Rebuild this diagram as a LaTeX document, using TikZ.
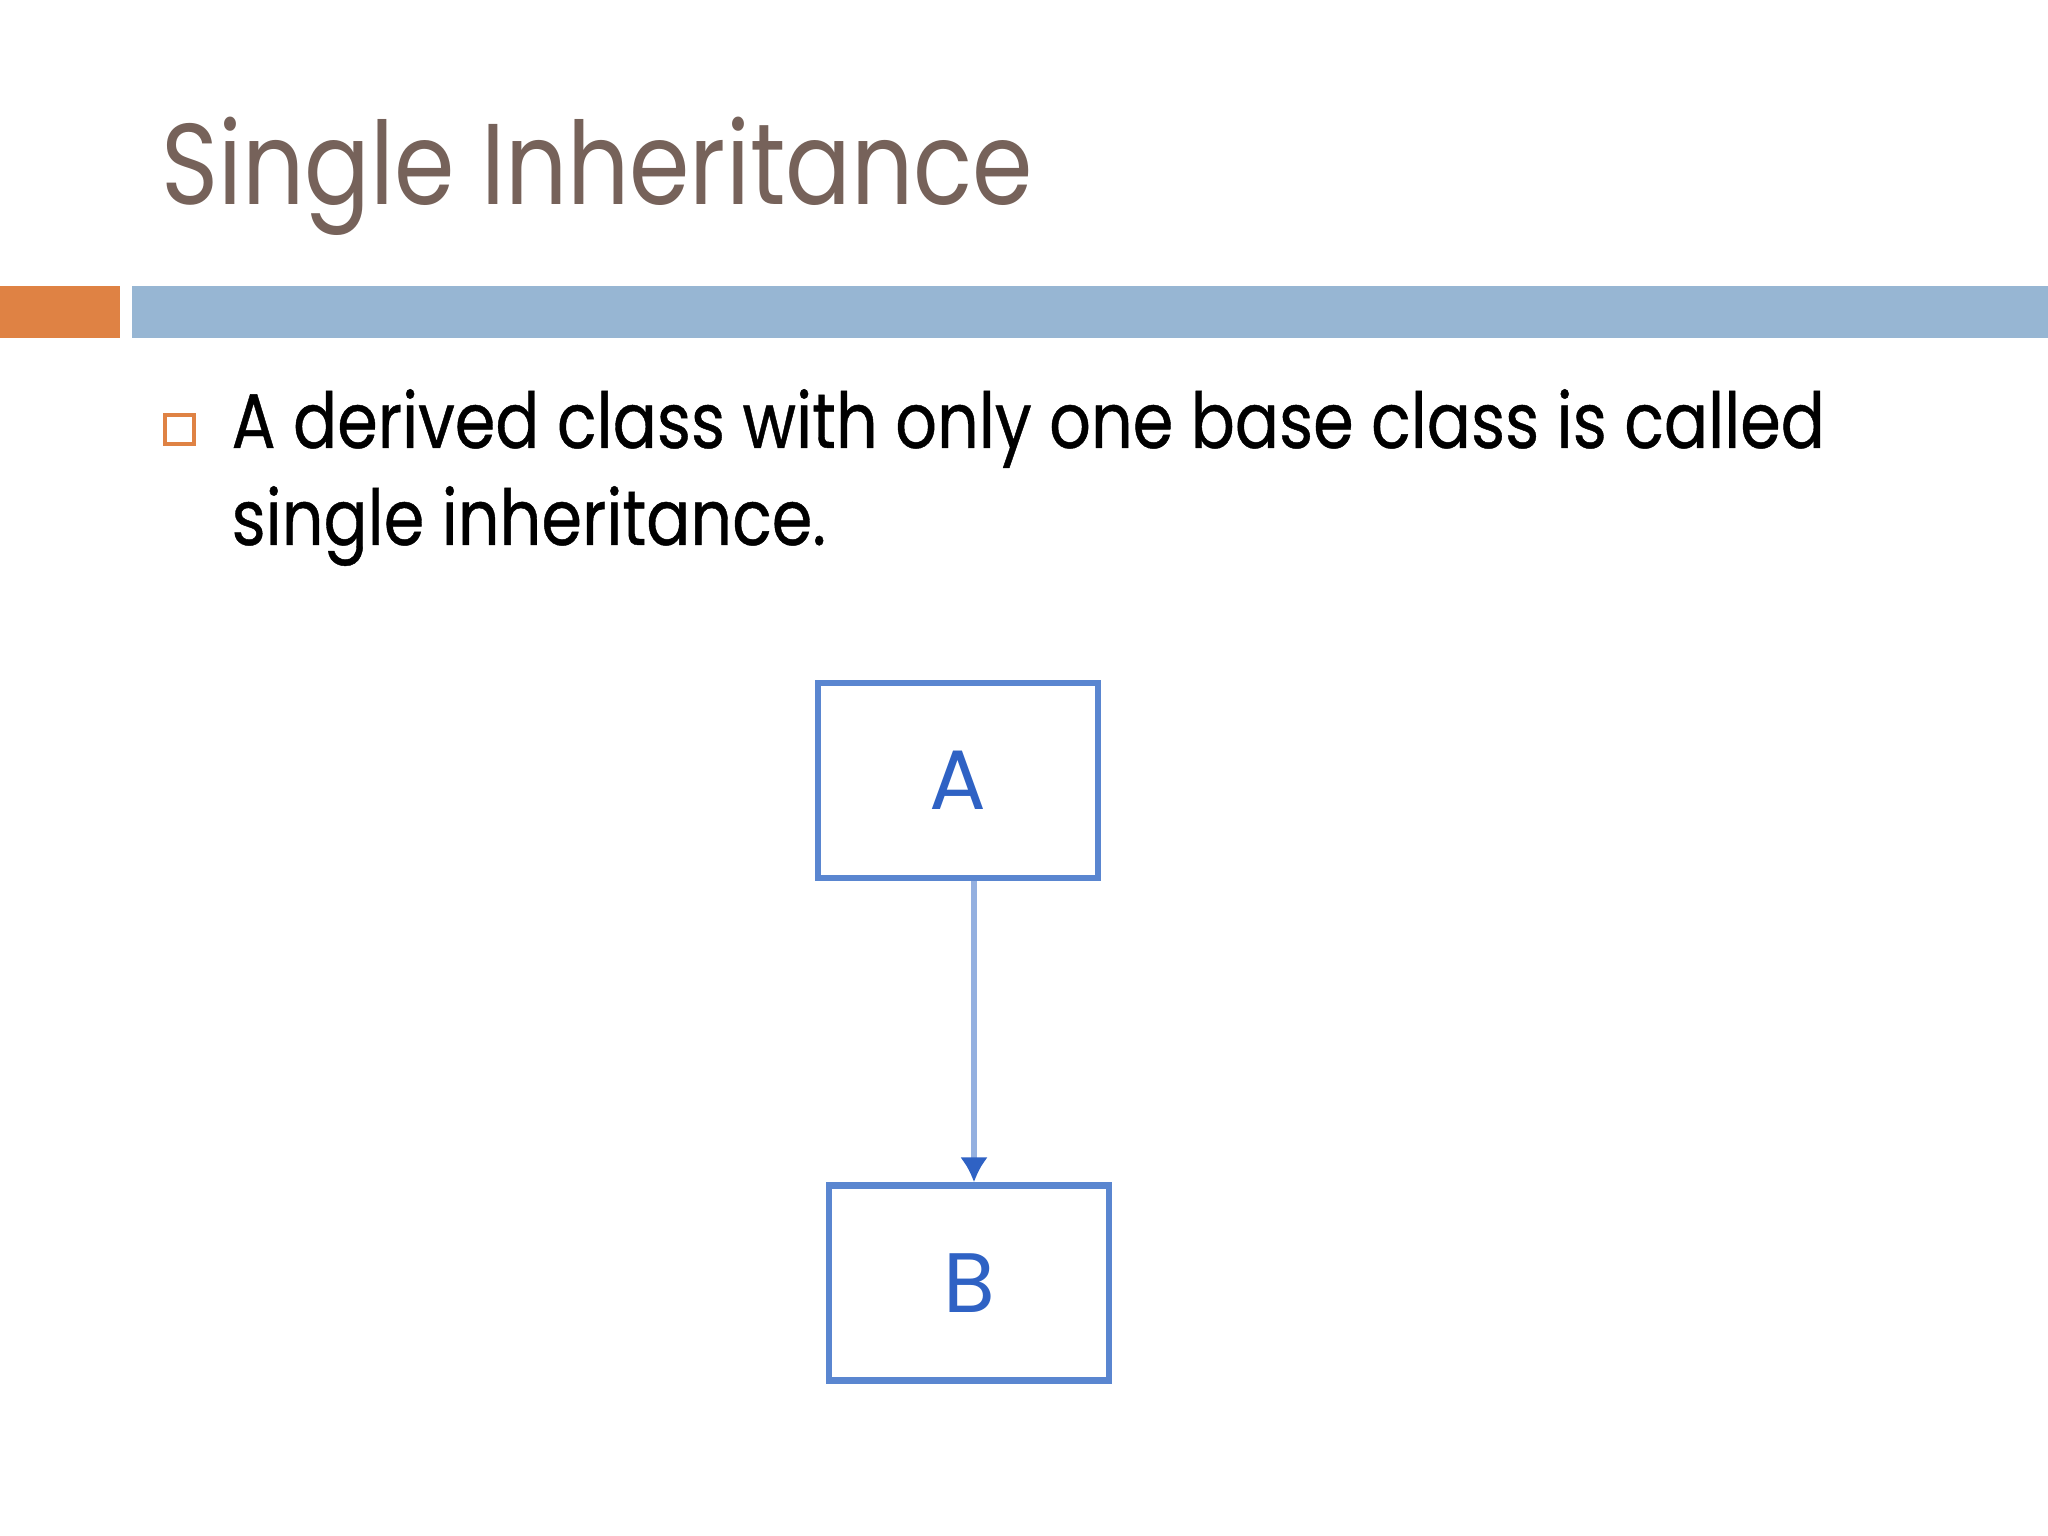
\documentclass[tikz,border=0pt]{standalone}
\usepackage{fontspec}
\usepackage{tikz}
\usetikzlibrary{arrows.meta}
\setmainfont{Poppins}
\newfontfamily\bodyfont{Poppins}[FakeBold=0.6]
\definecolor{titlebrown}{HTML}{76625A}
\definecolor{barorange}{HTML}{DF8244}
\definecolor{barblue}{HTML}{97B6D3}
\definecolor{boxblue}{HTML}{5A86D0}
\definecolor{letterblue}{HTML}{2F62C4}

\begin{document}
\begin{tikzpicture}[
  classbox/.style={draw=boxblue, line width=1.8pt, minimum width=2.8cm, minimum height=1.95cm,
    text=letterblue, font=\fontsize{24}{28}\selectfont},
  bodytext/.style={anchor=base west, inner sep=0pt, xscale=.845, transform shape,
    font=\bodyfont\fontsize{22}{26}\selectfont}]
  \useasboundingbox (0,0) rectangle (20.48,-15.36);
  \node [anchor=base west, inner sep=0pt, xscale=.847, transform shape, text=titlebrown,
    font=\fontsize{32.7}{36}\selectfont] (title) at (1.61,-2.05) {Single Inheritance};
  \fill [barorange] (0,-2.86) rectangle (1.20,-3.38);
  \fill [barblue] (1.32,-2.86) rectangle (20.48,-3.38);
  \draw [barorange, line width=1.2pt] (1.65,-4.15) rectangle (1.94,-4.44);
  \node [bodytext] (line1) at (2.31,-4.48) {A derived class with only one base class is called};
  \node [bodytext] (line2) at (2.31,-5.45) {single inheritance.};
  \node [classbox] (A) at (9.58,-7.805) {A};
  \node [classbox] (B) at (9.69,-12.83) {B};
	\draw [-{Latex[length=2.5mm,width=2.8mm,color=letterblue]}, boxblue!65, line width=1.8pt] ([xshift=1.6mm]A.south)--([xshift=0.5mm]B.north);
\end{tikzpicture}
\end{document}
